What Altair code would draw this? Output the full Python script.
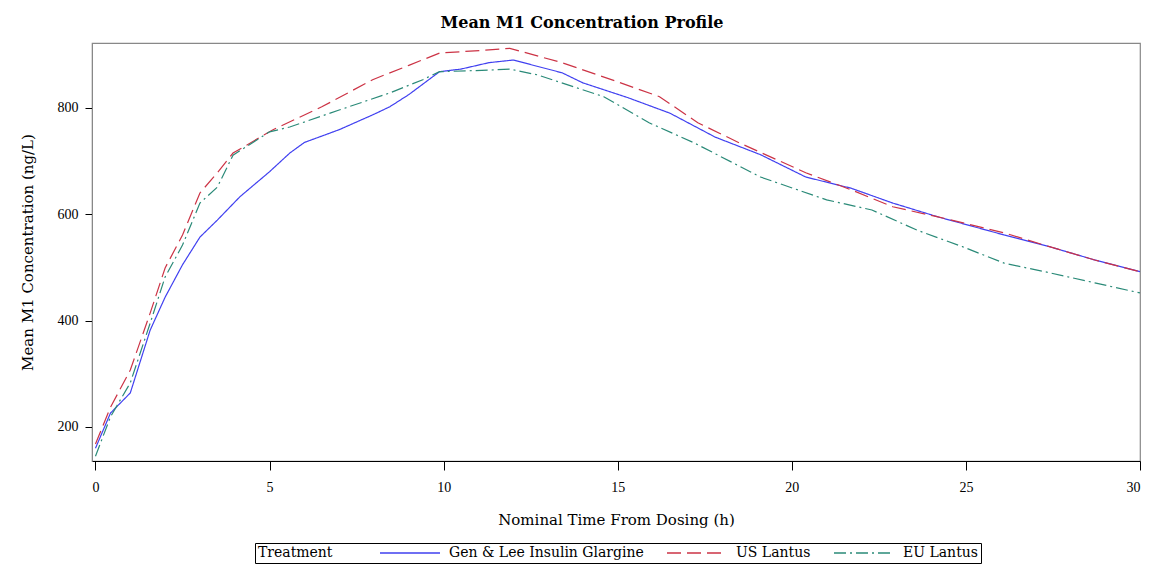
import altair as alt
import pandas as pd

treatments = ["Gen & Lee Insulin Glargine", "US Lantus", "EU Lantus"]
colors = ["#4040F0", "#CC3345", "#2A8A78"]
dashes = [[1, 0], [14, 6], [12, 4, 2, 4]]

blue_t = [0, 0.43, 1.0, 1.57, 2.0, 2.5, 3.0, 3.5, 4.15, 5.0, 5.58, 6.0, 7.0, 8.0, 8.45, 9.0, 9.88, 10.5,
          11.3, 12.0, 13.4, 14.0, 15.3, 16.5, 17.8, 19.1, 20.4, 21.7, 22.9, 24.2, 26.1, 27.4, 28.7, 30]
blue_v = [160, 226, 264, 382, 444, 505, 557, 589, 633, 680, 715, 735, 759, 788, 802, 825, 868, 873,
          885, 890, 866, 847, 819, 790, 745, 712, 670, 649, 621, 595, 561, 539, 514, 492]

red_t = [0, 0.43, 1.0, 1.57, 2.0, 2.5, 3.0, 3.5, 3.95, 5.1, 6.5, 7.96, 9.0, 9.88, 11.3, 11.9,
         13.4, 15.0, 16.2, 17.3, 18.5, 20.4, 21.7, 22.9, 24.2, 26.1, 27.4, 28.7, 30]
red_v = [168, 237, 307, 414, 499, 561, 640, 678, 715, 759, 802, 853, 880, 903, 909, 912,
         885, 849, 821, 772, 734, 678, 646, 614, 595, 565, 539, 514, 492]

green_t = [0, 0.43, 1.0, 1.57, 2.0, 2.5, 3.0, 3.5, 3.95, 5.0, 5.58, 7.0, 8.45, 9.4, 9.88, 11.3, 11.9,
           12.7, 14.6, 15.9, 17.2, 19.1, 21.0, 22.3, 23.6, 24.9, 26.1, 27.4, 28.7, 30]
green_v = [145, 219, 283, 395, 482, 542, 621, 651, 711, 755, 764, 796, 828, 853, 868, 871, 873,
           862, 821, 772, 734, 670, 627, 608, 570, 539, 508, 490, 471, 452]

x_ticks = [0, 5, 10, 15, 20, 25, 30]
y_ticks = [200, 400, 600, 800]

rows = []
for name, ts, vs in [(treatments[0], blue_t, blue_v), (treatments[1], red_t, red_v), (treatments[2], green_t, green_v)]:
    for i, (t, v) in enumerate(zip(ts, vs)):
        rows.append({"Treatment": name, "time": t, "conc": v, "order": i})
df = pd.DataFrame(rows)

FONT = "Liberation Serif"
TFONT = "DejaVu Serif"

legend = alt.Legend(
    title="Treatment", orient="none", legendX=163, legendY=500, direction="horizontal",
    titleOrient="left", strokeColor="black", padding=3, symbolType="M-5,0H5", symbolSize=144,
    symbolStrokeWidth=1.3, labelFont=TFONT, labelFontSize=14, titleFont=TFONT, titleFontSize=14,
    titleFontWeight="normal", columnPadding=20, titlePadding=70, labelOffset=32, labelLimit=400,
    labelColor="black", titleColor="black", titleBaseline="middle", titleAlign="left",
)

chart = alt.Chart(df).mark_line(strokeWidth=1.2).encode(
    x=alt.X("time:Q", scale=alt.Scale(domain=[-0.1, 30], nice=False, zero=False),
            axis=alt.Axis(title="Nominal Time From Dosing (h)", values=x_ticks, grid=False,
                          tickSize=9, labelPadding=10, titlePadding=18, domainColor="black",
                          tickColor="black", labelFont=FONT, labelFontSize=14, titleFont=TFONT,
                          titleFontSize=15, titleFontWeight="normal", labelColor="black",
                          titleColor="black")),
    y=alt.Y("conc:Q", scale=alt.Scale(domain=[136, 922], nice=False, zero=False),
            axis=alt.Axis(title="Mean M1 Concentration (ng/L)", values=y_ticks, grid=False,
                          tickSize=7, labelPadding=7, titlePadding=22, domainColor="#888888",
                          tickColor="black", labelFont=FONT, labelFontSize=14, titleFont=TFONT,
                          titleFontSize=15, titleFontWeight="normal", labelColor="black",
                          titleColor="black")),
    color=alt.Color("Treatment:N", scale=alt.Scale(domain=treatments, range=colors), legend=legend),
    strokeDash=alt.StrokeDash("Treatment:N", scale=alt.Scale(domain=treatments, range=dashes), legend=legend),
    order="order:Q",
).properties(
    width=1048, height=418,
    title=alt.Title("Mean M1 Concentration Profile", font=TFONT, fontSize=16, fontWeight="bold",
                    color="black", anchor="middle", dx=-34, offset=12),
    autosize=alt.AutoSizeParams(type="none"),
    padding={"left": 84, "top": 35, "right": 2, "bottom": 103},
).configure_view(stroke="#888888", strokeWidth=1.2)

chart.save("out.html", embed_options={"renderer": "svg", "actions": False})
